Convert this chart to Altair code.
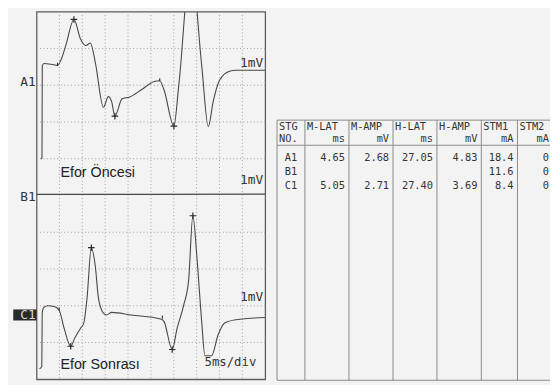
import altair as alt
import pandas as pd

# ---------------- waveform data (time in ms, 5 ms/div; amplitude in grid divisions) ----
a1_t = [0.97, 1.18, 1.25, 1.61, 3.22, 4.58, 5.31, 6.38, 8.17, 9.61, 10.81, 11.76, 12.83,
        14.62, 15.69, 16.40, 17.13, 18.70, 20.36, 22.85, 25.73, 26.93, 27.88, 30.03, 31.11,
        33.75, 36.11, 37.55, 38.63, 40.05, 42.20, 43.64, 49.94]
a1_v = [5.99, 6.03, 8.53, 8.59, 8.57, 8.54, 8.68, 9.08, 9.79, 9.26, 9.08, 9.15, 8.63,
        7.40, 7.69, 7.56, 7.16, 7.63, 7.68, 7.87, 8.10, 8.12, 7.87, 6.89, 8.01,
        11.31, 8.54, 6.87, 7.56, 8.14, 8.38, 8.41, 8.41]

b1_t = [0.0, 25.0, 50.0]
b1_v = [5.03, 5.03, 5.04]

c1_t = [0.64, 1.14, 1.23, 1.61, 2.43, 3.87, 4.94, 6.02, 7.46, 8.38, 9.61, 10.32, 11.03,
        11.97, 12.83, 13.54, 14.62, 15.33, 16.41, 20.70, 27.15, 27.88, 29.66, 30.74,
        32.18, 33.25, 34.18, 35.04, 36.11, 36.82, 38.26, 39.70, 41.12, 43.64, 49.94]
c1_v = [0.29, 0.35, 1.80, 1.96, 2.00, 1.98, 1.88, 1.39, 0.90, 1.13, 1.39, 1.53, 2.20,
        3.58, 3.09, 2.20, 1.80, 1.75, 1.82, 1.75, 1.64, 1.57, 0.81, 1.39,
        2.02, 2.69, 4.45, 3.36, 1.57, 0.64, 0.64, 1.21, 1.53, 1.62, 1.68]

plus_t = [8.17, 17.13, 30.03, 7.46, 11.97, 29.66, 34.18]
plus_v = [9.79, 7.16, 6.89, 0.90, 3.58, 0.81, 4.45]
tick_t = [4.58, 26.93, 4.94, 27.51]
tick_v = [8.54, 8.12, 1.88, 1.66]

grid_t = [5, 10, 15, 20, 25, 30, 35, 40, 45]
grid_v = [1, 2, 3, 4, 6, 7, 8, 9]

chan_labels = ["A1", "B1", "C1"]
chan_levels = [8.10, 4.95, 1.75]
gain_labels = ["1mV", "1mV", "1mV"]
gain_levels = [8.61, 5.42, 2.25]
cond_labels = ["Efor Öncesi", "Efor Sonrası"]
cond_levels = [5.62, 0.39]
timebase = ["5ms/div"]

# ---------------- table data ----------------
head1 = ["STG", "M-LAT", "M-AMP", "H-LAT", "H-AMP", "STM1", "STM2"]
head2 = ["NO.", "ms", "mV", "ms", "mV", "mA", "mA"]
row_names = ["A1", "B1", "C1"]
m_lat = ["4.65", "", "5.05"]
m_amp = ["2.68", "", "2.71"]
h_lat = ["27.05", "", "27.40"]
h_amp = ["4.83", "", "3.69"]
stm1 = ["18.4", "11.6", "8.4"]
stm2 = ["0", "0", "0"]

# table layout (table units, 0 = top rule of the table)
col_edges = [0, 28.3, 73, 117.7, 162.3, 207.3, 244, 280]
row_head1, row_head2, row_sep = 7, 19.5, 25.5
row_data = [38.5, 52.5, 66.5]
table_bottom = 264

TRACE = "#474747"
MONO = "DejaVu Sans Mono"

xs = alt.Scale(domain=[0, 50], nice=False, zero=False)
ys = alt.Scale(domain=[0, 10], nice=False, zero=False)


def X(f):
    return alt.X(f, type="quantitative", scale=xs, axis=None)


def Y(f):
    return alt.Y(f, type="quantitative", scale=ys, axis=None)


grid_xl = alt.Chart(pd.DataFrame({"t": grid_t})).mark_rule(
    color="#a0a0a0", strokeDash=[1, 2.5], strokeWidth=1).encode(x=X("t"))
grid_yl = alt.Chart(pd.DataFrame({"v": grid_v})).mark_rule(
    color="#a0a0a0", strokeDash=[1, 2.5], strokeWidth=1).encode(y=Y("v"))

tr_a1 = alt.Chart(pd.DataFrame({"t": a1_t, "v": a1_v})).mark_line(
    color=TRACE, strokeWidth=1.1, interpolate="monotone", clip=True).encode(x=X("t"), y=Y("v"))
tr_b1 = alt.Chart(pd.DataFrame({"t": b1_t, "v": b1_v})).mark_line(
    color=TRACE, strokeWidth=1.3).encode(x=X("t"), y=Y("v"))
tr_c1 = alt.Chart(pd.DataFrame({"t": c1_t, "v": c1_v})).mark_line(
    color=TRACE, strokeWidth=1.1, interpolate="monotone").encode(x=X("t"), y=Y("v"))

plus = alt.Chart(pd.DataFrame({"t": plus_t, "v": plus_v})).mark_point(
    shape="M-1,0L1,0M0,-1L0,1", size=44, filled=False, color="#2a2a2a", strokeWidth=1.2,
    opacity=1).encode(x=X("t"), y=Y("v"))
ticks = alt.Chart(pd.DataFrame({"t": tick_t, "v": tick_v})).mark_point(
    shape="M0,-1L0,0.2", size=30, filled=False, color="#2a2a2a", strokeWidth=1.1,
    opacity=1).encode(x=X("t"), y=Y("v"))

chan_df = pd.DataFrame({"lab": chan_labels, "v": chan_levels, "t": [0.0] * 3})
chan_df["hl"] = chan_df["lab"] == "C1"
chan_df["y0"] = chan_df["v"] - 0.15
chan_df["y1"] = chan_df["v"] + 0.15
chan_df["x0"] = -5.1
box = alt.Chart(chan_df[chan_df["hl"]]).mark_rect(color="#2a2a2a").encode(
    x=X("x0"), x2="t", y=Y("y0"), y2="y1")
chan_txt = alt.Chart(chan_df).mark_text(
    align="right", baseline="middle", dx=-1, font=MONO, fontSize=13).encode(
    x=X("t"), y=Y("v"), text="lab",
    color=alt.condition("datum.hl", alt.value("#d8d8d8"), alt.value("#333333")))

gain_txt = alt.Chart(pd.DataFrame({"lab": gain_labels, "v": gain_levels, "t": [50.0] * 3})).mark_text(
    align="right", baseline="middle", dx=-2, font=MONO, fontSize=13, color="#333").encode(
    x=X("t"), y=Y("v"), text="lab")
tb_txt = alt.Chart(pd.DataFrame({"lab": timebase, "v": [0.46], "t": [50.0]})).mark_text(
    align="right", baseline="middle", dx=-9, font=MONO, fontSize=12.5, color="#333").encode(
    x=X("t"), y=Y("v"), text="lab")
cond_txt = alt.Chart(pd.DataFrame({"lab": cond_labels, "v": cond_levels, "t": [5.0, 5.0]})).mark_text(
    align="left", baseline="middle", dx=1, font="Liberation Sans", fontSize=14.5, color="#222").encode(
    x=X("t"), y=Y("v"), text="lab")

wave = alt.layer(grid_xl, grid_yl, tr_b1, tr_a1, tr_c1, plus, ticks,
                 gain_txt, tb_txt, cond_txt, box, chan_txt)

# ---------------- table ----------------
tx = alt.Scale(domain=[0, 277], range=[244, 521], nice=False, zero=False)
ty = alt.Scale(domain=[0, 264], range=[110, 374], nice=False, zero=False)


def TX(f):
    return alt.X(f, type="quantitative", scale=tx, axis=None)


def TY(f):
    return alt.Y(f, type="quantitative", scale=ty, axis=None)


vlines = alt.Chart(pd.DataFrame({"x": col_edges[:-1], "y0": [0] * 7, "y1": [table_bottom] * 7})).mark_rule(
    color="#8a8a8a", strokeWidth=1).encode(x=TX("x"), y=TY("y0"), y2="y1")
hlines = alt.Chart(pd.DataFrame({"y": [0, row_sep, table_bottom], "x0": [0] * 3, "x1": [col_edges[-1]] * 3})).mark_rule(
    color="#8a8a8a", strokeWidth=1).encode(x=TX("x0"), x2="x1", y=TY("y"))

left_cells = pd.DataFrame({"x": col_edges[:-1] + [0], "y": [row_head1] * 7 + [row_head2],
                           "txt": head1 + [head2[0]]})
right_vals = [head2[1:]] + [[a, b, c, d, e, f] for a, b, c, d, e, f in
                            zip(m_lat, m_amp, h_lat, h_amp, stm1, stm2)]
rc_x, rc_y, rc_t = [], [], []
for yy, vals in zip([row_head2] + row_data, right_vals):
    for ci, s in enumerate(vals):
        rc_x.append(col_edges[ci + 2])
        rc_y.append(yy)
        rc_t.append(s)
right_cells = pd.DataFrame({"x": rc_x, "y": rc_y, "txt": rc_t})
right_cells = right_cells[right_cells["txt"] != ""]
center_cells = pd.DataFrame({"x": [(col_edges[0] + col_edges[1]) / 2] * 3, "y": row_data,
                             "txt": row_names})

tstyle = dict(font=MONO, fontSize=10.5, color="#333", baseline="middle")
t_left = alt.Chart(left_cells).mark_text(align="left", dx=2, **tstyle).encode(
    x=TX("x"), y=TY("y"), text="txt")
t_right = alt.Chart(right_cells).mark_text(align="right", dx=-4, **tstyle).encode(
    x=TX("x"), y=TY("y"), text="txt")
t_center = alt.Chart(center_cells).mark_text(align="center", dx=0, **tstyle).encode(
    x=TX("x"), y=TY("y"), text="txt")

table = alt.layer(vlines, hlines, t_left, t_right, t_center)

chart = alt.layer(wave, table).resolve_scale(x="independent", y="independent").properties(
    width=232, height=373,
    padding={"left": 29, "top": 1, "right": 289, "bottom": 3},
    autosize=alt.AutoSizeParams(type="none"),
    background="#f3f3f3",
).configure_view(stroke="#5e5e5e", strokeWidth=1.3)

chart.save("out.html", embed_options={"renderer": "svg", "actions": False})
